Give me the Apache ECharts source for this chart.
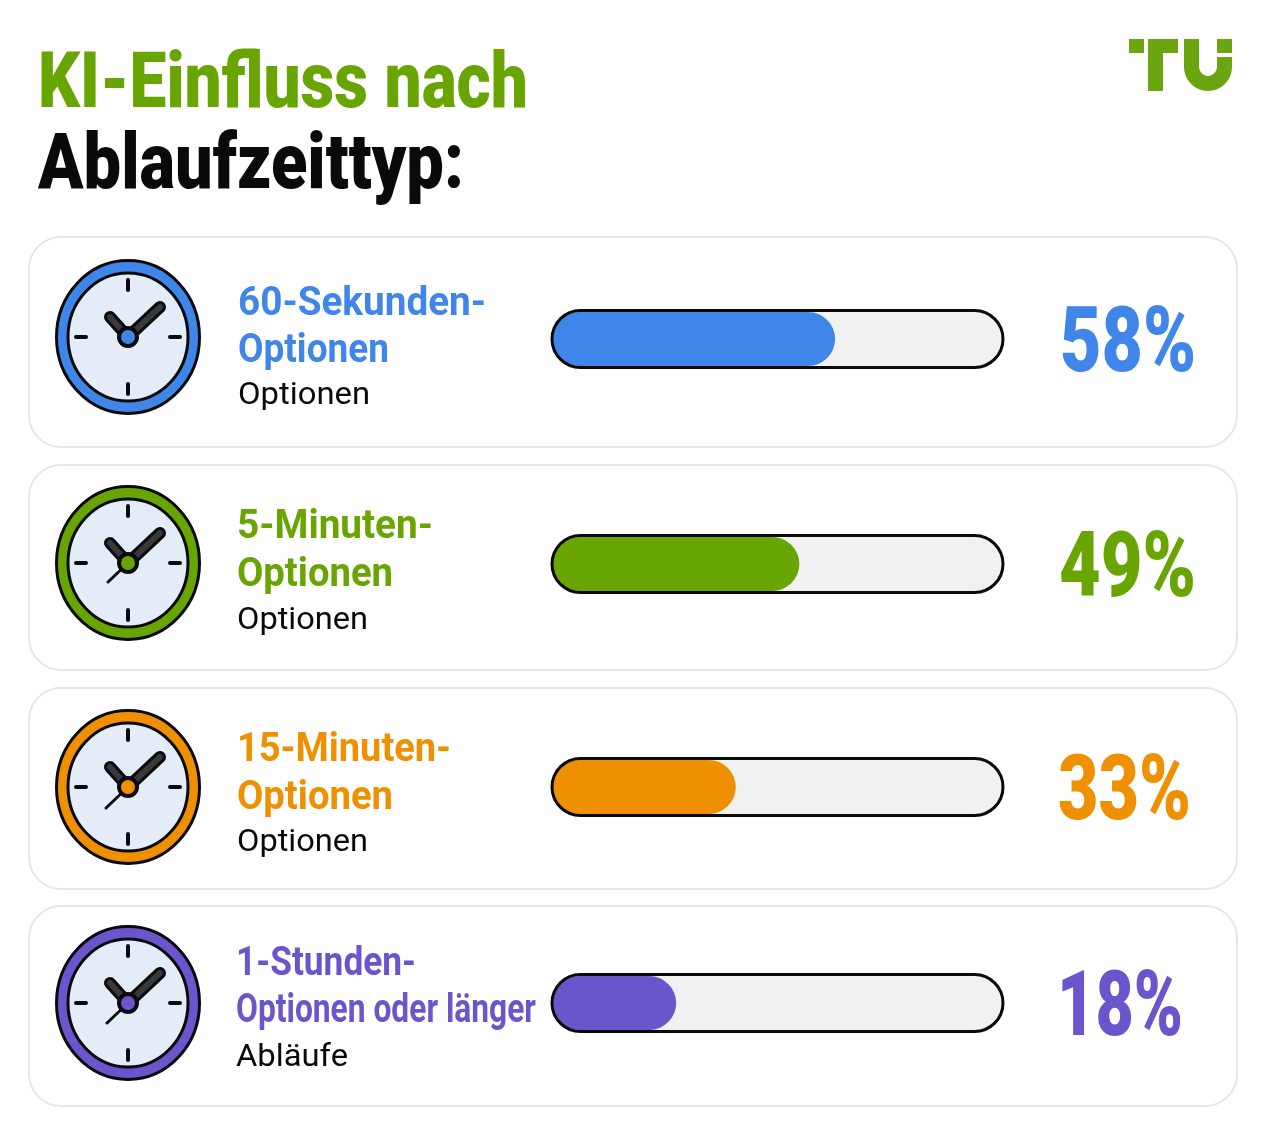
<!DOCTYPE html>
<html lang="de">
<head>
<meta charset="utf-8">
<title>KI-Einfluss nach Ablaufzeittyp</title>
<script src="https://cdn.jsdelivr.net/npm/echarts@6/dist/echarts.min.js"></script>
<style>html,body{margin:0;padding:0;background:#fff}#chart{width:1280px;height:1137px}</style>
</head>
<body>
<div id="chart"></div>
<script>
// Chart content
const titleLines = ['KI-Einfluss nach', 'Ablaufzeittyp:'];
const headingTop = ['60-Sekunden-', '5-Minuten-', '15-Minuten-', '1-Stunden-'];
const headingBottom = ['Optionen', 'Optionen', 'Optionen', 'Optionen oder länger'];
const subLabels = ['Optionen', 'Optionen', 'Optionen', 'Abläufe'];
const impactPercent = [58, 49, 33, 18];
const rowColors = ['#3f86e8', '#68a500', '#ee9000', '#6a55cc'];

// Card and row geometry
const cardTops = [237, 465, 688, 906];
const cardBottoms = [447, 670, 889, 1106];
const barCenters = [339, 564, 787, 1003];
const clockCenters = [337, 563, 787, 1003];
const textX = [238, 237, 237, 236];
const textRows = [[305, 352, 396], [528, 576, 621], [751, 799, 843], [965, 1012, 1058]];
const headingTopWidths = [248, 196, 214, 180];
const headingBottomWidths = [151, 156, 156, 300];
const subWidths = [132, 131, 131, 112];
const percentX = [1060, 1059, 1058, 1057];
const percentY = [348, 573, 796, 1012];
const percentWidths = [136, 137, 133, 126];
const clockSecondHand = [null, [-20, 19], [-22, 21], [-21, 20]];

// The track begins below zero on the value axis, so short values stay visible past the round cap
const AXIS_MIN = -13;
const AXIS_MAX = 100;
const BAR_LEFT = 553;
const BAR_WIDTH = 449;
const BAR_HEIGHT = 54;

const FONT = 'Roboto, "Noto Sans", sans-serif';
const measureCtx = document.createElement('canvas').getContext('2d');

// Text squeezed horizontally to a set width, for the condensed look of the headings
function fitText(text, x, cy, width, size, weight, fill) {
  measureCtx.font = `${weight} ${size}px Roboto`;
  const natural = measureCtx.measureText(text).width;
  return {
    type: 'text', x, y: cy, scaleX: width / natural, z: 10,
    style: { text, fill, font: `${weight} ${size}px ${FONT}`, textAlign: 'left', textVerticalAlign: 'middle' }
  };
}

function clockFace(cy, color, second) {
  const cx = 128;
  const dark = '#0b0b0d';
  const parts = [
    { type: 'ellipse', shape: { cx, cy, rx: 71.5, ry: 76.5 }, style: { fill: color, stroke: dark, lineWidth: 3 } },
    { type: 'ellipse', shape: { cx, cy, rx: 60, ry: 64 }, style: { fill: '#e4edf7', stroke: dark, lineWidth: 3 } }
  ];
  [[0, -57, 0, -47], [0, 47, 0, 57], [-52, 0, -42, 0], [42, 0, 52, 0]].forEach(t => parts.push({
    type: 'line', shape: { x1: cx + t[0], y1: cy + t[1], x2: cx + t[2], y2: cy + t[3] },
    style: { stroke: dark, lineWidth: 4, lineCap: 'round' }
  }));
  if (second) {
    parts.push({
      type: 'line', shape: { x1: cx, y1: cy, x2: cx + second[0], y2: cy + second[1] },
      style: { stroke: dark, lineWidth: 3, lineCap: 'round' }
    });
  }
  [[-18, -20], [32, -30]].forEach(h => {
    parts.push({ type: 'line', shape: { x1: cx, y1: cy, x2: cx + h[0], y2: cy + h[1] },
      style: { stroke: dark, lineWidth: 12, lineCap: 'round' } });
    parts.push({ type: 'line', shape: { x1: cx, y1: cy, x2: cx + h[0], y2: cy + h[1] },
      style: { stroke: '#38383d', lineWidth: 6, lineCap: 'round' } });
  });
  parts.push({ type: 'circle', shape: { cx, cy, r: 9 }, style: { fill: color, stroke: dark, lineWidth: 4 } });
  return { type: 'group', z: 5, children: parts };
}

function logo() {
  const c = '#6ba510';
  const rect = (x, y, w, h) => ({ type: 'rect', shape: { x, y, width: w, height: h }, style: { fill: c } });
  return {
    type: 'group', children: [
      rect(1129, 39, 15, 14), rect(1148, 39, 30, 14), rect(1148, 39, 15, 52),
      rect(1184, 39, 15, 28), rect(1217, 39, 15, 14), rect(1217, 57, 15, 10),
      { type: 'sector', shape: { cx: 1208, cy: 67, r: 24, r0: 9, startAngle: 0, endAngle: Math.PI, clockwise: true },
        style: { fill: c } }
    ]
  };
}

const graphics = [
  fitText(titleLines[0], 38, 87, 490, 78, 900, '#68a500'),
  fitText(titleLines[1], 38, 168, 426, 78, 900, '#0a0a0a'),
  logo()
];

impactPercent.forEach((value, i) => {
  graphics.push({
    type: 'rect', z: -1,
    shape: { x: 29, y: cardTops[i], width: 1208, height: cardBottoms[i] - cardTops[i], r: 32 },
    style: { fill: '#fff', stroke: '#e6e6e6', lineWidth: 2 }
  });
  graphics.push(clockFace(clockCenters[i], rowColors[i], clockSecondHand[i]));
  graphics.push(fitText(headingTop[i], textX[i], textRows[i][0], headingTopWidths[i], 40, 700, rowColors[i]));
  graphics.push(fitText(headingBottom[i], textX[i], textRows[i][1], headingBottomWidths[i], 40, 700, rowColors[i]));
  graphics.push(fitText(subLabels[i], textX[i], textRows[i][2], subWidths[i], 31, 400, '#0a0a0a'));
  graphics.push(fitText(value + '%', percentX[i], percentY[i], percentWidths[i], 90, 900, rowColors[i]));
  // Black outline sits above the fill
  graphics.push({
    type: 'rect', z: 20,
    shape: { x: BAR_LEFT - 1, y: barCenters[i] - 28.5, width: BAR_WIDTH + 2, height: 57, r: 28.5 },
    style: { fill: 'transparent', stroke: '#0a0a0a', lineWidth: 3 }
  });
});

const option = {
  animation: false,
  backgroundColor: '#fff',
  grid: barCenters.map(c => ({
    left: BAR_LEFT, width: BAR_WIDTH, top: c - BAR_HEIGHT / 2, height: BAR_HEIGHT, containLabel: false
  })),
  xAxis: impactPercent.map((_, i) => ({
    type: 'value', gridIndex: i, min: AXIS_MIN, max: AXIS_MAX, startValue: AXIS_MIN, show: false
  })),
  yAxis: impactPercent.map((_, i) => ({
    type: 'category', gridIndex: i, show: false,
    data: [headingTop[i] + headingBottom[i]]
  })),
  series: impactPercent.map((value, i) => ({
    type: 'bar', xAxisIndex: i, yAxisIndex: i,
    data: [value],
    barWidth: BAR_HEIGHT,
    silent: true,
    showBackground: true,
    backgroundStyle: { color: '#f1f1f1', borderRadius: BAR_HEIGHT / 2 },
    itemStyle: { color: rowColors[i], borderRadius: BAR_HEIGHT / 2 }
  })),
  graphic: { elements: graphics }
};

echarts.init(document.getElementById('chart'), null, { renderer: 'canvas' }).setOption(option);
</script>
</body>
</html>
